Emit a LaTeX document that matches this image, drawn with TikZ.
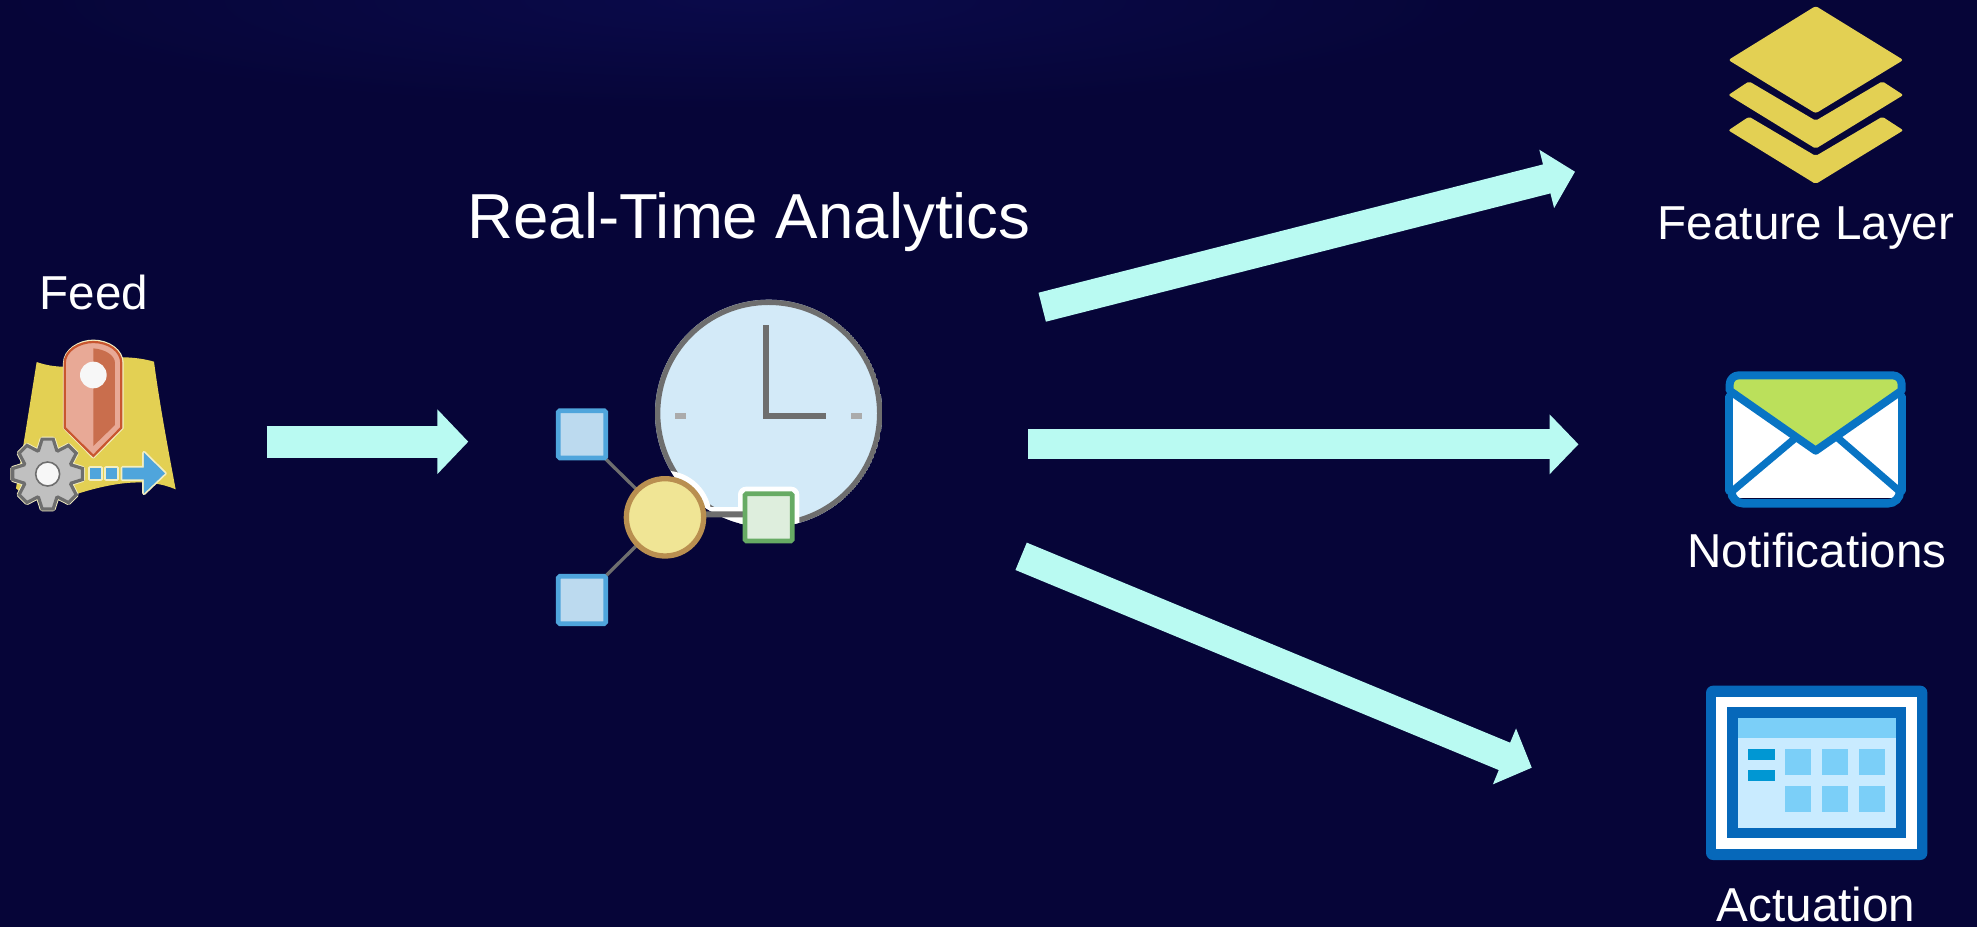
\documentclass[tikz,border=0pt]{standalone}
\usepackage{fontspec}
\setmainfont{Liberation Sans}
\usetikzlibrary{arrows.meta,calc}
\definecolor{bgnavy}{HTML}{060538}
\definecolor{bgtop}{HTML}{0A0A4A}
\definecolor{flow}{HTML}{B9FAF2}
\definecolor{mapy}{HTML}{E3D053}
\definecolor{cream}{HTML}{F3EEC2}
\definecolor{pinedge}{HTML}{C8562F}
\definecolor{pinlight}{HTML}{E8A996}
\definecolor{pindark}{HTML}{C96E4D}
\definecolor{geargray}{HTML}{C0C0C0}
\definecolor{iconblue}{HTML}{4FA5DC}
\definecolor{handgray}{HTML}{6E6E6E}
\definecolor{clockface}{HTML}{D3EAF8}
\definecolor{tickgray}{HTML}{ABABAB}
\definecolor{sqfill}{HTML}{BCDAEF}
\definecolor{hubfill}{HTML}{F0E595}
\definecolor{hubedge}{HTML}{B98F50}
\definecolor{grnedge}{HTML}{67AB64}
\definecolor{grnfill}{HTML}{DEEEDD}
\definecolor{envblue}{HTML}{0874C4}
\definecolor{envgreen}{HTML}{BBE05B}
\definecolor{winblue}{HTML}{0668BA}
\definecolor{winpale}{HTML}{C9EBFF}
\definecolor{winsky}{HTML}{7BCFF8}
\definecolor{winbar}{HTML}{0097D3}
\tikzset{
  flowarrow/.style={draw=flow,line width=#1},
  label/.style={text=white,inner sep=0pt,anchor=center,font=\fontsize{47.6}{48}\selectfont},
  zoomed/.style={scale=1/3},
}
\begin{document}
\begin{tikzpicture}[x=1pt,y=-1pt]
\useasboundingbox (0,0) rectangle (1977,927);
\fill[bgnavy] (0,0) rectangle (1977,927);
\begin{scope}
\clip (0,0) rectangle (1977,927);
\shade[inner color=bgtop,outer color=bgnavy] (750,0) ellipse[x radius=750,y radius=110];
\end{scope}

% ---------- labels
\node[label] (feedlabel) at (94,292) {Feed};
\node[label,font=\fontsize{63.6}{64}\selectfont] (rtlabel) at (749,222) {Real-Time Analytics};
\node[label] (layerlabel) at (1806,228) {Feature Layer};
\node[label] (notelabel) at (1817,550) {Notifications};
\node[label] (actlabel) at (1816,904) {Actuation};

% ---------- connectors
\coordinate (a1s) at (266.7,441.7); \coordinate (a1e) at (468.3,441.7);
\coordinate (a2s) at (1028,444.3);  \coordinate (a2e) at (1578.5,444.3);
\coordinate (a3s) at (1042.2,307.2);\coordinate (a3e) at (1575,171.7);
\coordinate (a4s) at (1021.1,556.3);\coordinate (a4e) at (1531.8,767.7);
\draw[flowarrow=32pt,-{Triangle[length=31pt,width=63pt]}] (a1s) -- (a1e);
\draw[flowarrow=29.7pt,-{Triangle[length=29pt,width=58.3pt]}] (a2s) -- (a2e);
\draw[flowarrow=29.9pt,-{Triangle[length=29.2pt,width=58.5pt]}] (a3s) -- (a3e);
\draw[flowarrow=29.6pt,-{Triangle[length=29.6pt,width=58.7pt]}] (a4s) -- (a4e);

% ---------- feed icon
\begin{scope}[shift={(0,320)},zoomed]
\fill[mapy] (110,126) .. controls (135,135) and (165,140) .. (190,140) -- (370,112)
  .. controls (400,112) and (435,117) .. (462,125)
  .. controls (480,260) and (505,390) .. (527,508)
  .. controls (440,470) and (330,490) .. (230,522) -- (60,515) -- (48,505)
  .. controls (70,380) and (90,250) .. (110,126) -- cycle;
\path[draw=cream,line width=3.5pt,line join=round,fill=cream]
  (194,323) -- (194,130) .. controls (194,92) and (237,64) .. (280,64)
  .. controls (325,64) and (366,92) .. (366,130) -- (366,323) -- (280,410) -- cycle;
\path[draw=pinedge,line width=2.2pt,fill=pinlight,line join=miter]
  (194,323) -- (194,130) .. controls (194,92) and (237,66) .. (280,66)
  .. controls (325,66) and (364,92) .. (364,130) -- (364,323) -- (280,408) -- cycle;
\fill[pindark] (280,85) .. controls (315,88) and (345,105) .. (345,130) -- (345,315) -- (280,378) -- cycle;
\fill[white!97!black] (280,165) circle[radius=40];
% arrow
\draw[cream,line width=3.5pt,line join=round,fill=cream] (270,443) rectangle (303,478);
\draw[cream,line width=3.5pt,line join=round,fill=cream] (318,443) rectangle (352,478);
\draw[cream,line width=3.5pt,line join=round,fill=cream] (367,443) -- (432,443) -- (432,398) -- (495,460) -- (432,520) -- (432,478) -- (367,478) -- cycle;
\fill[iconblue] (270,443) rectangle (303,478);
\fill[iconblue] (318,443) rectangle (352,478);
\fill[iconblue] (367,443) -- (432,443) -- (432,398) -- (495,460) -- (432,520) -- (432,478) -- (367,478) -- cycle;
% gear
\begin{scope}[shift={(143,462)}]
\draw[cream,line width=5pt,line join=round,fill=cream]
  (-21:76) \foreach \a in {0,45,...,315} { -- (\a-21:76) -- (\a-9:106) -- (\a+9:106) -- (\a+21:76) } -- cycle;
\draw[handgray,line width=3.2pt,line join=miter,fill=geargray]
  (-21:76) \foreach \a in {0,45,...,315} { -- (\a-21:76) -- (\a-9:106) -- (\a+9:106) -- (\a+21:76) } -- cycle;
\draw[handgray,line width=1.6pt,fill=white!97!black] (0,0) circle[radius=36];
\end{scope}
\end{scope}

% ---------- clock and nodes icon
\begin{scope}[shift={(540,290)},zoomed]
\coordinate (clockc) at (686,370);
\coordinate (hubc) at (375,682);
\begin{scope}
\clip (clockc) circle[radius=341];
\fill[clockface] (clockc) circle[radius=341];
\draw[handgray,line width=5.3pt] (clockc) circle[radius=333];
\fill[white] (hubc) circle[radius=140];
\fill[white] (375,650) rectangle (700,715);
\fill[white,rounded corners=8pt] (594,590) rectangle (778,775);
\end{scope}
\fill[tickgray] (405,369) rectangle (438,387);
\fill[tickgray] (933,369) rectangle (966,387);
\draw[handgray,line width=6pt,line join=miter] (678,105) -- (678,378) -- (858,378);
\draw[handgray,line width=6pt] (hubc) ++(0,-9) -- (640,673);
\draw[handgray,line width=3.3pt] (197,507) -- (hubc);
\draw[handgray,line width=3.3pt] (197,858) -- (hubc);
\draw[iconblue,line width=4.7pt,fill=sqfill,rounded corners=1.5pt] (55,362) rectangle (197,504);
\draw[iconblue,line width=4.7pt,fill=sqfill,rounded corners=1.5pt] (55,859) rectangle (197,1001);
\draw[hubedge,line width=5.3pt,fill=hubfill] (hubc) circle[radius=116];
\draw[grnedge,line width=4.7pt,fill=grnfill,rounded corners=1.5pt] (615,611) rectangle (757,753);
\end{scope}

% ---------- layers icon
\begin{scope}[shift={(1700,0)},zoomed]
\fill[mapy,rounded corners=2.5pt] (347,18) -- (610,180) -- (347,340) -- (85,180) -- cycle;
\fill[mapy,rounded corners=2pt] (85,285) -- (147,244) -- (347,362) -- (547,244) -- (610,285) -- (347,446) -- cycle;
\fill[mapy,rounded corners=2pt] (85,391) -- (147,350) -- (347,468) -- (547,350) -- (610,391) -- (347,552) -- cycle;
\end{scope}

% ---------- envelope icon
\begin{scope}[shift={(1700,360)},zoomed]
\fill[white] (88,100) rectangle (605,415);
\draw[envblue,line width=8pt,line cap=round] (88,110) -- (88,392);
\draw[envblue,line width=8pt,line cap=round] (605,110) -- (605,392);
\draw[envblue,line width=8.4pt,line cap=round,rounded corners=12pt] (94,398) -- (94,430) -- (600,430) -- (600,398);
\draw[envblue,line width=7.3pt,line cap=round] (95,395) -- (285,235);
\draw[envblue,line width=7.3pt,line cap=round] (600,395) -- (415,235);
\draw[envblue,line width=8pt,fill=envgreen,line join=round]
  (347,272) -- (89,92) [rounded corners=9pt] -- (89,46) -- (605,46) [sharp corners] -- (605,92) -- cycle;
\end{scope}

% ---------- actuation icon
\begin{scope}[shift={(1690,670)},zoomed]
\fill[winblue,rounded corners=7pt] (48,47) rectangle (712,570);
\fill[white] (79,80) rectangle (681,537);
\fill[winblue] (110,112) rectangle (649,505);
\fill[winpale] (144,143) rectangle (618,474);
\fill[winsky] (144,143) rectangle (618,205);
\fill[winbar] (175,238) rectangle (254,269);
\fill[winbar] (175,301) rectangle (254,332);
\foreach \x in {286,396,507} \foreach \y in {237,348} {
  \fill[winsky] (\x,\y) rectangle ++(78,78);
}
\end{scope}
\end{tikzpicture}
\end{document}
